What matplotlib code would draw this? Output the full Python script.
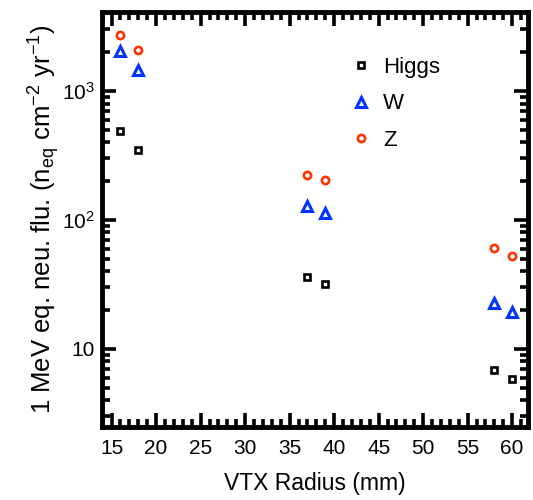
import matplotlib
matplotlib.use("Agg")
import matplotlib.pyplot as plt
from matplotlib.ticker import FixedLocator, FixedFormatter, MultipleLocator, LogLocator, NullFormatter

plt.rcParams['font.family'] = ['Liberation Sans', 'DejaVu Sans']
plt.rcParams['mathtext.fontset'] = 'custom'
plt.rcParams['mathtext.rm'] = 'Liberation Sans'
plt.rcParams['mathtext.it'] = 'Liberation Sans'
plt.rcParams['mathtext.default'] = 'regular'

radius = [16, 18, 37, 39, 58, 60]
higgs = [490, 350, 36, 32, 6.9, 5.85]
w_vals = [2050, 1460, 128, 113, 22.7, 19.4]
z_vals = [2720, 2080, 223, 204, 60.7, 52.6]
ytick_vals = [10, 100, 1000]
ytick_labels = ['10', r'10$^{2}$', r'10$^{3}$']
xtick_vals = [15, 20, 25, 30, 35, 40, 45, 50, 55, 60]

fig = plt.figure(figsize=(5.33, 5.0), dpi=100)
ax = fig.add_axes([0.191, 0.146, 0.800, 0.830])

ax.plot(radius, higgs, linestyle='none', marker='s', ms=5.0, mfc='white', mec='black', mew=1.9, label='Higgs')
ax.plot(radius, w_vals, linestyle='none', marker='^', ms=6.6, mfc='white', mec='#0033ff', mew=2.2, label='W')
ax.plot(radius, z_vals, linestyle='none', marker='o', ms=5.2, mfc='white', mec='#ff3300', mew=1.9, label='Z')

ax.set_yscale('log')
ax.set_xlim(13.9, 61.8)
ax.set_ylim(2.48, 4100)

ax.xaxis.set_major_locator(FixedLocator(xtick_vals))
ax.xaxis.set_minor_locator(MultipleLocator(1))
ax.yaxis.set_major_locator(FixedLocator(ytick_vals))
ax.yaxis.set_major_formatter(FixedFormatter(ytick_labels))
ax.yaxis.set_minor_locator(LogLocator(base=10, subs=range(2, 10)))
ax.yaxis.set_minor_formatter(NullFormatter())

ax.tick_params(which='both', direction='in', top=True, right=True, width=2.6, colors='black', labelsize=15)
ax.tick_params(which='major', length=10)
ax.tick_params(axis='x', which='major', pad=9)
ax.tick_params(axis='y', which='major', pad=5)
ax.tick_params(which='minor', length=5.5)
for s in ax.spines.values():
    s.set_linewidth(3.5)

ax.set_xlabel('VTX Radius (mm)', fontsize=16.5, labelpad=10)
ax.set_ylabel(r'1 MeV eq. neu. flu. (n$_{eq}$ cm$^{-2}$ yr$^{-1}$)', fontsize=18.5, labelpad=0)

leg = ax.legend(loc='upper left', bbox_to_anchor=(0.535, 0.94), frameon=False, fontsize=16,
                handletextpad=0.5, labelspacing=0.7, handlelength=1.0, markerscale=1.0)

fig.savefig('out.png', dpi=100)
